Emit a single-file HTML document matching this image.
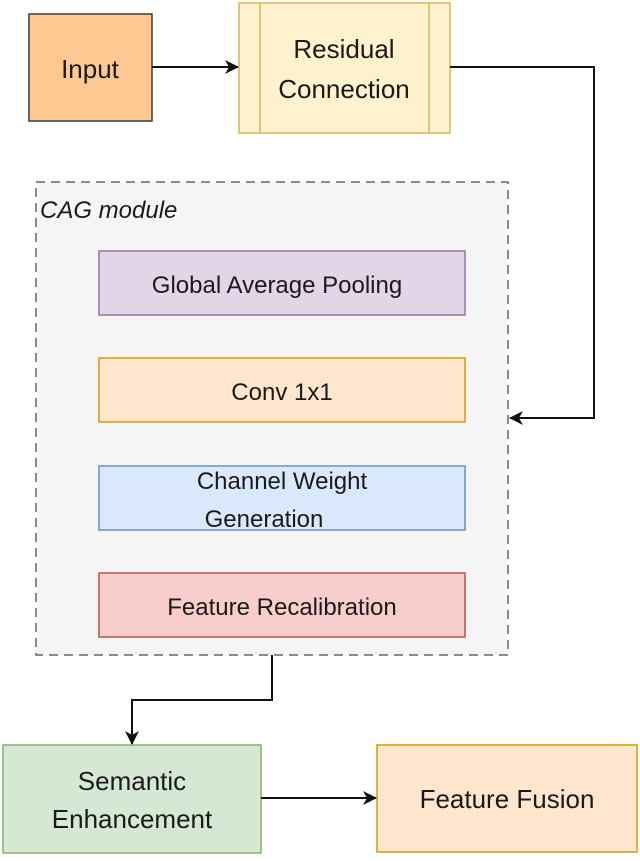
<!DOCTYPE html>
<html><head><meta charset="utf-8"><style>
body{margin:0;background:#fff;width:640px;height:856px;overflow:hidden;font-family:"Liberation Sans",sans-serif}
svg text{font-family:"Liberation Sans",sans-serif;fill:#1a1a1a}
</style></head><body>
<svg width="640" height="856" viewBox="0 0 640 856">
<defs><marker id="a" markerWidth="14" markerHeight="14" refX="13" refY="7" orient="auto" markerUnits="userSpaceOnUse"><path d="M0,0 L14,7 L0,14 L4,7Z" fill="#111"/></marker></defs>
<rect x="29" y="14" width="123" height="107" fill="#fdc892" stroke="#3a3a3a" stroke-width="1.5"/>
<text x="90" y="78" font-size="26" text-anchor="middle">Input</text>
<rect x="239" y="3" width="211" height="130" fill="#fff2cc" stroke="#d6b656" stroke-width="1.5"/>
<line x1="260" y1="3" x2="260" y2="133" stroke="#d6b656" stroke-width="1.5"/>
<line x1="429" y1="3" x2="429" y2="133" stroke="#d6b656" stroke-width="1.5"/>
<text x="344" y="58" font-size="26" text-anchor="middle">Residual</text>
<text x="344" y="98" font-size="26" text-anchor="middle">Connection</text>
<path d="M152,67 H238" stroke="#111" stroke-width="2" fill="none" marker-end="url(#a)"/>
<rect x="36" y="182" width="472" height="473" fill="#f5f5f5" stroke="#666" stroke-width="1.5" stroke-dasharray="9,6"/>
<path d="M450,67 H594 V418 H510" stroke="#111" stroke-width="2" fill="none" marker-end="url(#a)"/>
<text x="40" y="218" font-size="24" font-style="italic" fill="#333">CAG module</text>
<rect x="99" y="251" width="366" height="64" fill="#e1d5e7" stroke="#9673a6" stroke-width="1.5"/>
<text x="277" y="293" font-size="24" text-anchor="middle">Global Average Pooling</text>
<rect x="99" y="358" width="366" height="64" fill="#ffe6cc" stroke="#d79b00" stroke-width="1.5"/>
<text x="282" y="400" font-size="24" text-anchor="middle">Conv 1x1</text>
<rect x="99" y="466" width="366" height="64" fill="#dae8fc" stroke="#6c8ebf" stroke-width="1.5"/>
<text x="282" y="489" font-size="24" text-anchor="middle">Channel Weight</text>
<text x="264" y="527" font-size="24" text-anchor="middle">Generation</text>
<rect x="99" y="573" width="366" height="64" fill="#f8cecc" stroke="#b85450" stroke-width="1.5"/>
<text x="282" y="615" font-size="24" text-anchor="middle">Feature Recalibration</text>
<path d="M272,655 V700 H132 V744" stroke="#111" stroke-width="2" fill="none" marker-end="url(#a)"/>
<rect x="3" y="745" width="258" height="108" fill="#d5e8d4" stroke="#82b366" stroke-width="1.5"/>
<text x="132" y="790" font-size="26" text-anchor="middle">Semantic</text>
<text x="132" y="828" font-size="26" text-anchor="middle">Enhancement</text>
<rect x="377" y="745" width="260" height="107" fill="#ffe6cc" stroke="#d79b00" stroke-width="1.5"/>
<text x="507" y="808" font-size="26" text-anchor="middle">Feature Fusion</text>
<path d="M261,798 H376" stroke="#111" stroke-width="2" fill="none" marker-end="url(#a)"/>
</svg>
</body></html>
